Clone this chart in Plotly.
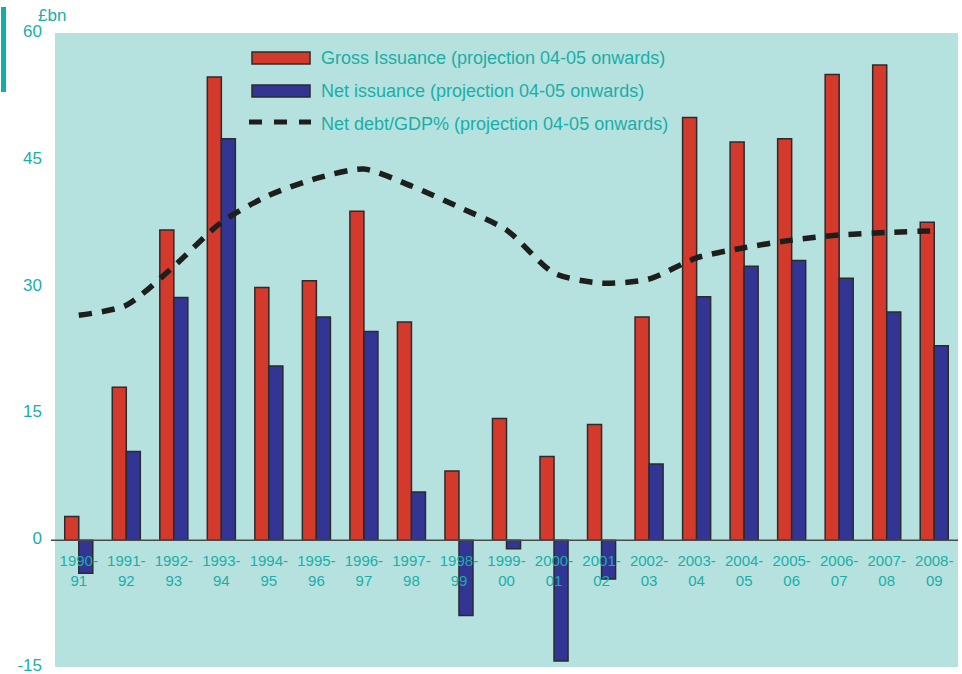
import plotly.graph_objects as go

# Financial years
years = ["1990-<br>91", "1991-<br>92", "1992-<br>93", "1993-<br>94", "1994-<br>95",
         "1995-<br>96", "1996-<br>97", "1997-<br>98", "1998-<br>99", "1999-<br>00",
         "2000-<br>01", "2001-<br>02", "2002-<br>03", "2003-<br>04", "2004-<br>05",
         "2005-<br>06", "2006-<br>07", "2007-<br>08", "2008-<br>09"]

# £bn
gross_issuance = [2.8, 18.1, 36.7, 54.8, 29.9, 30.7, 38.9, 25.8, 8.2, 14.4,
                  9.9, 13.7, 26.4, 50.0, 47.1, 47.5, 55.1, 56.2, 37.6]
net_issuance = [-3.9, 10.5, 28.7, 47.5, 20.6, 26.4, 24.7, 5.7, -8.9, -1.0,
                -14.3, -4.6, 9.0, 28.8, 32.4, 33.1, 31.0, 27.0, 23.0]
# % of GDP
net_debt_gdp = [26.6, 27.8, 32.4, 37.6, 40.8, 42.8, 43.9, 41.9, 39.4, 36.7,
                31.6, 30.4, 30.9, 33.4, 34.6, 35.5, 36.1, 36.4, 36.6]

y_ticks = [-15, 0, 15, 30, 45, 60]
y_tick_labels = ["-15", "0", "15", "30", "45", "60"]

TEAL = "#1aaea7"
RED = "#d43a2c"
BLUE = "#333594"
BG = "#b5e2df"
FONT = "Liberation Sans, Arial, sans-serif"

fig = go.Figure()
fig.add_trace(go.Bar(x=years, y=gross_issuance, name="Gross Issuance (projection 04-05 onwards)",
                     marker=dict(color=RED, line=dict(color="#2b2b2b", width=1.5))))
fig.add_trace(go.Bar(x=years, y=net_issuance, name="Net issuance (projection 04-05 onwards)",
                     marker=dict(color=BLUE, line=dict(color="#2b2b2b", width=1.5))))
fig.add_trace(go.Scatter(x=years, y=net_debt_gdp, mode="lines",
                         name="Net debt/GDP% (projection 04-05 onwards)",
                         line=dict(color="#1e1e1e", width=5.5, dash="13px,10px",
                                   shape="spline", smoothing=0.7)))

# Legend drawn as swatches + labels
legend_items = [
    ("Gross Issuance (projection 04-05 onwards)", "bar", RED, 58),
    ("Net issuance (projection 04-05 onwards)", "bar", BLUE, 91),
    ("Net debt/GDP% (projection 04-05 onwards)", "dash", "#1e1e1e", 124),
]
L, T, W, H = 55, 33, 903, 634
px = lambda x: (x - L) / W
py = lambda y: (T + H - y) / H
shapes = []
annotations = []
for label, kind, color, yc in legend_items:
    if kind == "bar":
        shapes.append(dict(type="rect", xref="paper", yref="paper",
                           x0=px(252), x1=px(310), y0=py(yc + 6), y1=py(yc - 6),
                           fillcolor=color, line=dict(color="#2b2b2b", width=1.5)))
    else:
        shapes.append(dict(type="line", xref="paper", yref="paper",
                           x0=px(249), x1=px(311), y0=py(yc - 2), y1=py(yc - 2),
                           line=dict(color=color, width=5, dash="13px,12px")))
    annotations.append(dict(text=label, xref="paper", yref="paper", x=px(319), y=py(yc),
                            xanchor="left", yanchor="middle", showarrow=False,
                            font=dict(family=FONT, size=18, color=TEAL)))

# Zero line with small tick to the left
shapes.append(dict(type="line", xref="paper", yref="y", x0=px(51), x1=1, y0=0, y1=0,
                   line=dict(color="#4a4a4a", width=1.5), layer="above"))
# Teal marker bar at top left
shapes.append(dict(type="rect", xref="paper", yref="paper", x0=px(1), x1=px(6),
                   y0=py(92), y1=py(7), fillcolor="#12afa5", line=dict(width=0)))
annotations.append(dict(text="£bn", xref="paper", yref="paper", x=px(51.5), y=py(16),
                        xanchor="center", yanchor="middle", showarrow=False,
                        font=dict(family=FONT, size=17, color=TEAL)))

fig.update_layout(
    width=962, height=674,
    margin=dict(l=L, r=962 - L - W, t=T, b=674 - T - H, autoexpand=False),
    paper_bgcolor="white", plot_bgcolor=BG,
    barmode="group", bargap=0.41, bargroupgap=0,
    showlegend=False,
    shapes=shapes, annotations=annotations,
    font=dict(family=FONT, color=TEAL),
    xaxis=dict(anchor="free", position=15 / 75, showgrid=False, showline=False,
               ticks="", tickfont=dict(family=FONT, size=15, color=TEAL),
               range=[-0.5, len(years) - 0.5], domain=[0, 1], ticklabelstandoff=10,
               automargin=False),
    yaxis=dict(range=[-15, 60], tickvals=y_ticks, ticktext=y_tick_labels,
               showgrid=False, zeroline=False,
               showline=False, ticks="", tickfont=dict(family=FONT, size=17, color=TEAL),
               ticklabelstandoff=12, ticklabelshift=-2, ticklabeloverflow="allow",
               domain=[0, 1], automargin=False),
)

fig.write_html("out.html")
